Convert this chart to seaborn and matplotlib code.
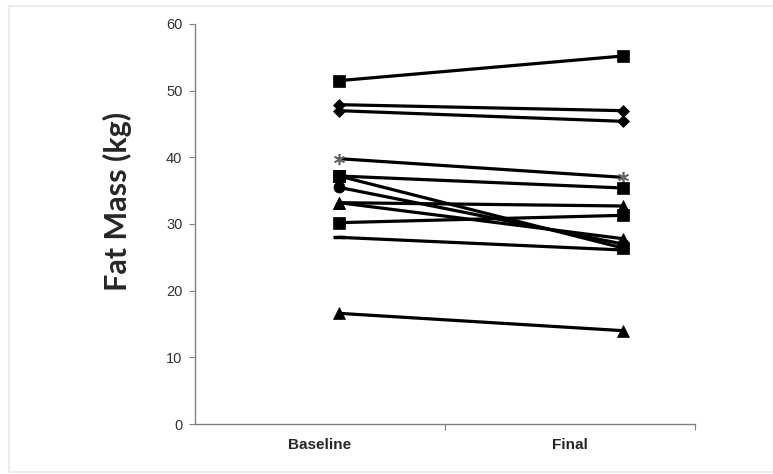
import pandas as pd
import matplotlib.pyplot as plt
import seaborn as sns
from matplotlib.patches import Rectangle

# Fat mass per subject at the two time points
times = ['Baseline', 'Final']
subjects = ['S1', 'S2', 'S3', 'S4', 'S5', 'S6', 'S7', 'S8', 'S9', 'S10', 'S11', 'S12']
baseline = [51.5, 47.9, 47.0, 39.8, 37.2, 37.2, 35.5, 33.2, 33.2, 30.2, 28.0, 16.6]
final = [55.2, 47.0, 45.4, 37.0, 35.4, 26.4, 27.0, 32.7, 27.8, 31.3, 26.1, 14.0]
markers = ['s', 'D', 'D', (6, 2, 0), 's', 's', 'o', '^', '^', 's', '_', '^']

rows = []
for s, b, f in zip(subjects, baseline, final):
    rows.append({'subject': s, 'time': 0, 'mass': b})
    rows.append({'subject': s, 'time': 1, 'mass': f})
df = pd.DataFrame(rows)

sns.set_style('white')
plt.rcParams['font.family'] = ['Liberation Sans', 'DejaVu Sans']

fig = plt.figure(figsize=(7.73, 4.74), dpi=100)
ax = fig.add_axes([195 / 773, 50 / 474, 500 / 773, 400 / 474])

for s, m in zip(subjects, markers):
    sub = df[df['subject'] == s]
    is_star = isinstance(m, tuple)
    sns.lineplot(data=sub, x='time', y='mass', ax=ax, color='black',
                 linewidth=2.3, marker=m,
                 markersize=8 if m != 'D' else 6.5,
                 markeredgecolor='#666666' if is_star else 'black',
                 markeredgewidth=1.2 if is_star else (2.5 if m == '_' else 0.5),
                 markerfacecolor='black', legend=False)

# Excel-like category axis: two bins, points sit a bit right of each bin centre
left, right = -0.507, 1.254
width = right - left
ax.set_xlim(left, right)
ax.set_xticks([left + width / 2, right])
ax.set_xticks([left + width / 4, left + 3 * width / 4], minor=True)
ax.set_xticklabels([], minor=False)
ax.set_xticklabels(times, minor=True, fontweight='bold', fontsize=11)
ax.tick_params(axis='x', which='major', direction='out', length=4, color='#808080', bottom=True)
ax.tick_params(axis='x', which='minor', length=0, pad=10)

ax.set_ylim(0, 60)
ax.set_yticks(range(0, 61, 10))
ax.tick_params(axis='y', direction='out', length=4, color='#808080', left=True,
               labelsize=10.5, labelcolor='#333333', pad=5)

ax.set_xlabel('')
ax.set_ylabel('Fat Mass (kg)', fontsize=22, fontweight='bold', family=['Lato', 'DejaVu Sans'])
ax.yaxis.set_label_coords(-0.126, 0.556)

sns.despine(ax=ax)
for side in ['left', 'bottom']:
    ax.spines[side].set_color('#808080')
    ax.spines[side].set_linewidth(1)

# faint frame around the chart area
fig.patches.append(Rectangle((9 / 773, 2 / 474), 1, 1 - 8 / 474, transform=fig.transFigure,
                             fill=False, edgecolor='#ececec', linewidth=1.5))

fig.savefig('out.png', dpi=100)
